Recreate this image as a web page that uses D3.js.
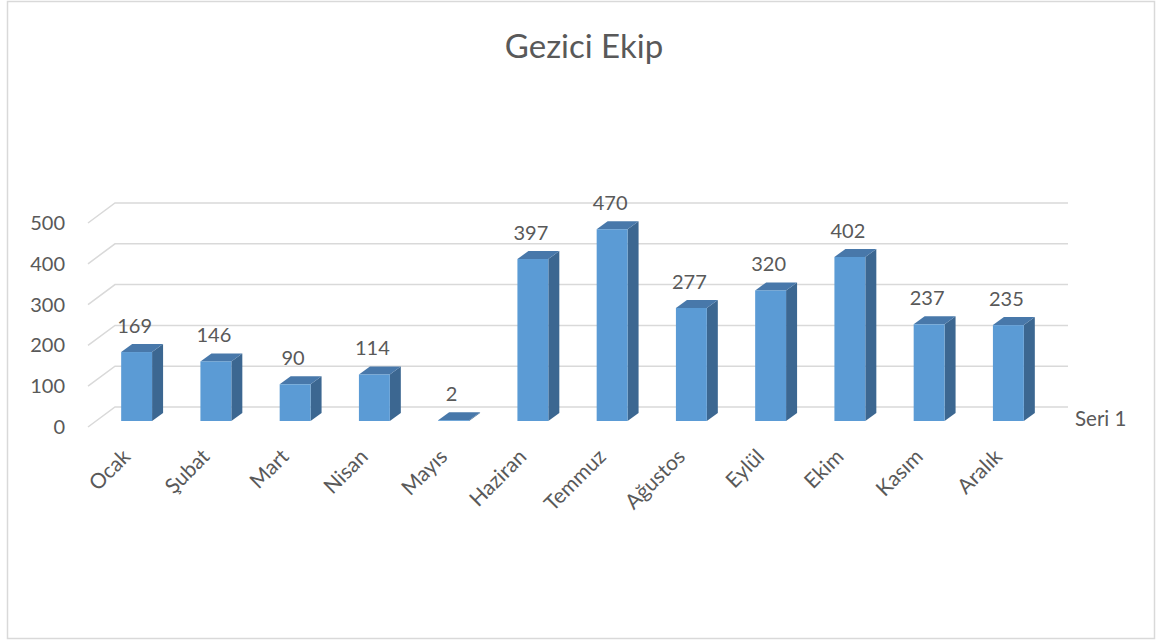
<!DOCTYPE html>
<html>
<head>
<meta charset="utf-8">
<script src="https://cdnjs.cloudflare.com/ajax/libs/d3/7.8.5/d3.min.js"></script>
<style>
  body { margin: 0; background: #fff; }
  text { font-family: Lato, "Open Sans", sans-serif; fill: #595959; }
</style>
</head>
<body>
<div id="chart"></div>
<script>
var months = ['Ocak', 'Şubat', 'Mart', 'Nisan', 'Mayıs', 'Haziran', 'Temmuz', 'Ağustos', 'Eylül', 'Ekim', 'Kasım', 'Aralık'];
var values = [169, 146, 90, 114, 2, 397, 470, 277, 320, 402, 237, 235];
var ticks = [0, 100, 200, 300, 400, 500];
var seriesName = 'Seri 1';
var title = 'Gezici Ekip';

var w = 1156, h = 641;
var svg = d3.select('#chart').append('svg')
  .attr('width', w)
  .attr('height', h);

// chart border
svg.append('rect')
  .attr('x', 7.5).attr('y', 1.5)
  .attr('width', 1147).attr('height', 637)
  .attr('fill', '#fff')
  .attr('stroke', '#d9d9d9')
  .attr('stroke-width', 1.5);

svg.append('text')
  .attr('x', 584).attr('y', 58)
  .attr('text-anchor', 'middle')
  .style('font-size', '33px')
  .text(title);

// bar plane scales
var x = d3.scaleBand().domain(months).range([97, 1048]).paddingInner(0.61).paddingOuter(0.305);
var y = d3.scaleLinear().domain([0, 500]).range([421, 217]);

// depth offsets (front wall / back wall relative to bar plane)
var backDY = -14, frontDY = 6;
var frontX = 88, backX = 115, wallEnd = 1068;
var depthX = 11, depthY = -8;

// gridlines: short diagonal on left wall, long line on back wall
var grid = svg.append('g').attr('stroke', '#d9d9d9').attr('stroke-width', 1.5).attr('fill', 'none');
ticks.forEach(function(t){
  grid.append('path')
    .attr('d', 'M' + frontX + ',' + (y(t) + frontDY) +
               'L' + backX + ',' + (y(t) + backDY) +
               'L' + wallEnd + ',' + (y(t) + backDY));
});

// value axis labels
var yFront = y.copy().range([y.range()[0] + frontDY, y.range()[1] + frontDY]);
var ax = svg.append('g')
  .attr('transform', 'translate(65,0)')
  .call(d3.axisLeft(yFront).tickValues(ticks).tickSize(0).tickPadding(0));
ax.select('.domain').remove();
ax.selectAll('text')
  .style('font-size', '20px')
  .style('font-family', 'Lato, "Open Sans", sans-serif')
  .attr('fill', '#595959');

// bars
var bars = svg.selectAll('g.bar')
  .data(values)
  .enter()
  .append('g')
  .attr('class', 'bar');

bars.each(function(d, i){
  var g = d3.select(this);
  var x0 = x(months[i]), x1 = x0 + x.bandwidth();
  var yb = y(0), yt = y(d);
  // side
  g.append('path')
    .attr('d', 'M' + x1 + ',' + yt + 'L' + (x1 + depthX) + ',' + (yt + depthY) +
               'L' + (x1 + depthX) + ',' + (yb + depthY) + 'L' + x1 + ',' + yb + 'Z')
    .attr('fill', '#3c6791');
  // top
  g.append('path')
    .attr('d', 'M' + x0 + ',' + yt + 'L' + (x0 + depthX) + ',' + (yt + depthY) +
               'L' + (x1 + depthX) + ',' + (yt + depthY) + 'L' + x1 + ',' + yt + 'Z')
    .attr('fill', '#4878aa');
  // front
  g.append('rect')
    .attr('x', x0).attr('y', yt)
    .attr('width', x.bandwidth()).attr('height', yb - yt)
    .attr('fill', '#5b9bd5');
});

// data labels
svg.selectAll('text.val')
  .data(values)
  .enter()
  .append('text')
  .attr('class', 'val')
  .attr('x', function(d, i){ return x(months[i]) + x.bandwidth() / 2 - 2; })
  .attr('y', function(d){ return y(d) - 19; })
  .attr('text-anchor', 'middle')
  .style('font-size', '20px')
  .text(function(d){ return d; });

// category labels
svg.selectAll('text.cat')
  .data(months)
  .enter()
  .append('text')
  .attr('class', 'cat')
  .attr('text-anchor', 'end')
  .attr('transform', function(d){
    return 'translate(' + (x(d) + x.bandwidth() / 2 - 5) + ',458) rotate(-45)';
  })
  .style('font-size', '21px')
  .text(function(d){ return d; });

// series (depth) axis label
svg.append('text')
  .attr('x', 1075).attr('y', 426)
  .style('font-size', '20.5px')
  .text(seriesName);
</script>
</body>
</html>
